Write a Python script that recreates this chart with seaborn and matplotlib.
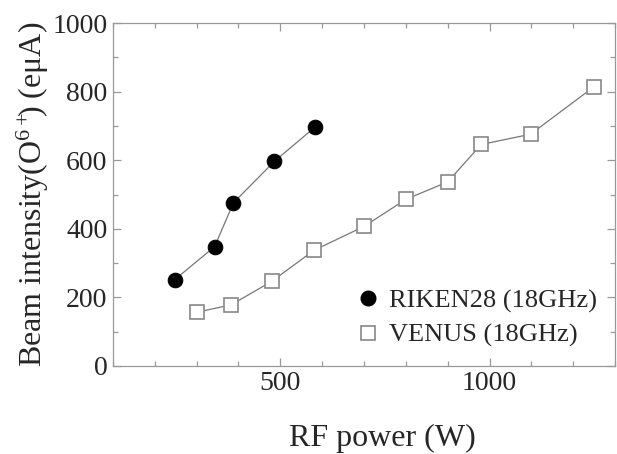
import matplotlib.pyplot as plt
from matplotlib.lines import Line2D
import pandas as pd
import seaborn as sns

riken_power = [248, 343, 388, 486, 584]
riken_beam = [252, 348, 476, 597, 698]
venus_power = [302, 382, 480, 580, 700, 800, 900, 980, 1098, 1250]
venus_beam = [157, 178, 247, 337, 407, 486, 537, 646, 676, 815]

riken = pd.DataFrame({"power": riken_power, "beam": riken_beam})
venus = pd.DataFrame({"power": venus_power, "beam": venus_beam})

sns.set_style("ticks")
plt.rcParams["font.family"] = ["Liberation Serif", "DejaVu Serif"]
plt.rcParams["mathtext.fontset"] = "stix"

grey = "#999999"
fig = plt.figure(figsize = (6.17, 4.54), dpi = 100)
ax = fig.add_axes([0.183, 0.194, 0.814, 0.755])

sns.lineplot(data = riken, x = "power", y = "beam", ax = ax, sort = False, color = "#777777", lw = 0.9,
             marker = "o", markersize = 10.5, markerfacecolor = "black", markeredgecolor = "black")
sns.lineplot(data = venus, x = "power", y = "beam", ax = ax, sort = False, color = "#777777", lw = 0.9,
             marker = "s", markersize = 10, markerfacecolor = "white", markeredgecolor = "#888888", markeredgewidth = 1.2)

ax.set_xlim(100, 1300)
ax.set_ylim(0, 1000)
ax.set_xticks([500, 1000])
ax.set_xticks(range(100, 1301, 100), minor = True)
ax.set_yticks(range(0, 1001, 200))
ax.set_yticks(range(0, 1001, 100), minor = True)
ax.tick_params(which = "both", direction = "in", top = True, right = True, color = grey, labelsize = 20, pad = 4)
ax.tick_params(which = "major", length = 6, width = 0.9)
ax.tick_params(which = "minor", length = 3.5, width = 0.9)
for s in ax.spines.values():
	s.set_color(grey)
	s.set_linewidth(0.9)

ax.set_xlabel("RF power (W)", fontsize = 23)
ax.xaxis.set_label_coords(0.536, -0.17)
ax.set_ylabel("Beam intensity$\\mathregular{(O^{6+}\\!\\!)}$ (e\u03bcA)", fontsize = 23, labelpad = 1)

handles = [Line2D([], [], ls = "none", marker = "o", markersize = 10.5, color = "black"),
           Line2D([], [], ls = "none", marker = "s", markersize = 10, markerfacecolor = "white", markeredgecolor = "#888888", markeredgewidth = 1.2)]
ax.legend(handles, ["RIKEN28 (18GHz)", "VENUS (18GHz)"], loc = "lower right", bbox_to_anchor = (1.0, 0.0),
          frameon = False, fontsize = 19, handletextpad = 0.2, labelspacing = 0.4, handlelength = 1.2, borderpad = 0.2)

plt.savefig("out.png")
